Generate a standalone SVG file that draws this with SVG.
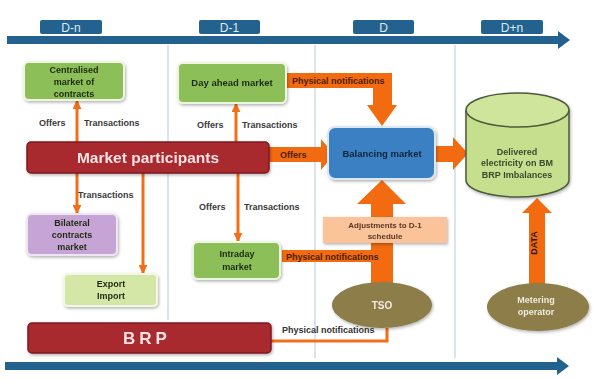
<svg xmlns="http://www.w3.org/2000/svg" width="593" height="379" viewBox="0 0 593 379">
<defs>
<style>
text{font-family:"Liberation Sans",Arial,sans-serif;font-weight:bold;}
.lbl{font-size:9px;fill:#3a3a3a;}
.box{font-size:9px;fill:#1e2a12;text-anchor:middle;}
.tl{font-size:12px;fill:#dfe9f2;text-anchor:middle;font-weight:normal;}
.pn{font-size:9px;fill:#4a1e00;}
.thin{stroke:#f26f1a;stroke-width:3;fill:none;}
.thick{fill:#f36b10;}
.div{stroke:#b9c7d6;stroke-width:1;}
.red{fill:#a8292f;stroke:#7e1c20;stroke-width:1.5;}
.green{fill:#8cbf58;stroke:#eef5e0;stroke-width:2;}
</style>
<marker id="ah" viewBox="0 0 10 10" refX="9" refY="5" markerWidth="3" markerHeight="3" orient="auto-start-reverse">
<path d="M0,0 L10,5 L0,10 z" fill="#f26f1a"/>
</marker>
<filter id="sh" x="-10%" y="-10%" width="130%" height="140%">
<feDropShadow dx="1" dy="1.5" stdDeviation="1.5" flood-color="#000" flood-opacity="0.3"/>
</filter>
</defs>
<rect width="593" height="379" fill="#ffffff"/>

<g id="timeline">
<line class="div" x1="168" y1="45" x2="168" y2="320"/>
<line class="div" x1="315" y1="45" x2="315" y2="358"/>
<line class="div" x1="455" y1="45" x2="455" y2="358"/>
<rect x="7" y="36" width="554" height="8" fill="#23628f"/>
<path d="M558,31 L570,40 L558,49 z" fill="#23628f"/>
<rect x="5" y="362" width="555" height="8" fill="#23628f"/>
<path d="M557,357 L569,366 L557,375 z" fill="#23628f"/>
<rect x="40" y="20" width="62" height="14" rx="2" fill="#23628f"/>
<text class="tl" x="71" y="31.5">D-n</text>
<rect x="199" y="20" width="61" height="14" rx="2" fill="#23628f"/>
<text class="tl" x="229.5" y="31.5">D-1</text>
<rect x="353" y="20" width="61" height="14" rx="2" fill="#23628f"/>
<text class="tl" x="383.5" y="31.5">D</text>
<rect x="481" y="20" width="62" height="14" rx="2" fill="#23628f"/>
<text class="tl" x="512" y="31.5">D+n</text>
</g>

<g id="connectors">
<line class="thin" x1="77" y1="142" x2="77" y2="101" marker-end="url(#ah)"/>
<line class="thin" x1="236" y1="142" x2="236" y2="104" marker-end="url(#ah)"/>
<line class="thin" x1="77" y1="173" x2="77" y2="213" marker-end="url(#ah)"/>
<line class="thin" x1="143" y1="173" x2="143" y2="273" marker-end="url(#ah)"/>
<line class="thin" x1="238" y1="173" x2="238" y2="241" marker-end="url(#ah)"/>
<polyline class="thin" points="271,341 387,341 387,328"/>
<path class="thick" d="M287,73 L392,73 L392,105 L397,105 L382,126 L367,105 L373,105 L373,88 L287,88 z"/>
<path class="thick" d="M269,147 L321,147 L321,139 L334,154.5 L321,170 L321,162 L269,162 z"/>
<path class="thick" d="M436,146 L453,146 L453,137 L468,153.5 L453,170 L453,162 L436,162 z"/>
<path class="thick" d="M371,283 L371,204 L357,204 L382,180 L406,204 L393,204 L393,283 z"/>
<rect class="thick" x="282" y="250" width="90" height="12"/>
<path class="thick" d="M529,285 L529,213 L522,213 L537,198 L552,213 L545,213 L545,285 z"/>
<text class="lbl" x="39" y="126">Offers</text>
<text class="lbl" x="84" y="126">Transactions</text>
<text class="lbl" x="197" y="128">Offers</text>
<text class="lbl" x="242" y="128">Transactions</text>
<text class="lbl" x="78" y="198">Transactions</text>
<text class="lbl" x="199" y="210">Offers</text>
<text class="lbl" x="244" y="210">Transactions</text>
<text class="pn" x="292" y="84">Physical notifications</text>
<text class="pn" x="280" y="158">Offers</text>
<text class="pn" x="286" y="260">Physical notifications</text>
<text class="lbl" x="282" y="333" style="fill:#333">Physical notifications</text>
<text x="537" y="243" transform="rotate(-90 537 243)" text-anchor="middle" style="font-size:9px;fill:#2a1a10">DATA</text>
</g>

<g id="centralised" filter="url(#sh)">
<rect class="green" x="24" y="62" width="100" height="38" rx="5"/>
<text class="box" x="74" y="73">Centralised</text>
<text class="box" x="74" y="85">market of</text>
<text class="box" x="74" y="97">contracts</text>
</g>

<g id="dayahead" filter="url(#sh)">
<rect class="green" x="178" y="63" width="108" height="40" rx="5"/>
<text class="box" x="232" y="86" style="font-size:9.5px">Day ahead market</text>
</g>

<g id="participants" filter="url(#sh)">
<rect class="red" x="27" y="142" width="242" height="31" rx="4"/>
<text x="148" y="163" text-anchor="middle" style="font-size:15.5px;fill:#f6e2e2">Market participants</text>
</g>

<g id="balancing" filter="url(#sh)">
<rect x="328" y="127" width="107" height="52" rx="7" fill="#3b80c2" stroke="#dbe8f4" stroke-width="2"/>
<text class="box" x="382" y="157" style="font-size:9.5px;fill:#10243a">Balancing market</text>
</g>

<g id="delivered" filter="url(#sh)">
<path d="M466,110 L466,180 A51.5,17 0 0 0 569,180 L569,110" fill="#c6df8f" stroke="#4e5a3c" stroke-width="1.5"/>
<ellipse cx="517.5" cy="110" rx="51.5" ry="17" fill="#cfe59c" stroke="#4e5a3c" stroke-width="1.5"/>
<text class="box" x="517" y="155" style="fill:#3b4a2c">Delivered</text>
<text class="box" x="517" y="166" style="fill:#3b4a2c">electricity on BM</text>
<text class="box" x="517" y="178" style="fill:#3b4a2c">BRP Imbalances</text>
</g>

<g id="bilateral" filter="url(#sh)">
<rect x="27" y="214" width="90" height="41" rx="5" fill="#c7a4d6" stroke="#efe4f4" stroke-width="2"/>
<text class="box" x="72" y="226">Bilateral</text>
<text class="box" x="72" y="238">contracts</text>
<text class="box" x="72" y="250">market</text>
</g>

<g id="exportimport" filter="url(#sh)">
<rect x="64" y="274" width="93" height="32" rx="4" fill="#d5e7a6" stroke="#f3f8e6" stroke-width="2"/>
<text class="box" x="111" y="287">Export</text>
<text class="box" x="111" y="299">Import</text>
</g>

<g id="intraday" filter="url(#sh)">
<rect class="green" x="193" y="242" width="87" height="37" rx="5"/>
<text class="box" x="237" y="257">Intraday</text>
<text class="box" x="237" y="270">market</text>
</g>

<g id="adjustments" filter="url(#sh)">
<rect x="323" y="217" width="124" height="26" fill="#fac39a"/>
<text class="box" x="385" y="228" style="font-size:8px;fill:#5a3820">Adjustments to D-1</text>
<text class="box" x="385" y="239" style="font-size:8px;fill:#5a3820">schedule</text>
</g>

<g id="tso" filter="url(#sh)">
<ellipse cx="382" cy="305" rx="50" ry="23" fill="#8c7d49"/>
<text x="382" y="309" text-anchor="middle" style="font-size:10px;fill:#f1ece0">TSO</text>
</g>

<g id="metering" filter="url(#sh)">
<ellipse cx="538" cy="307" rx="51" ry="24" fill="#8c7d49"/>
<text x="536" y="303" text-anchor="middle" style="font-size:9px;fill:#f1ece0">Metering</text>
<text x="536" y="315" text-anchor="middle" style="font-size:9px;fill:#f1ece0">operator</text>
</g>

<g id="brp" filter="url(#sh)">
<rect class="red" x="28" y="323" width="243" height="30" rx="4"/>
<text x="147" y="344" text-anchor="middle" style="font-size:17px;fill:#f6e2e2;letter-spacing:4px">BRP</text>
</g>
</svg>
